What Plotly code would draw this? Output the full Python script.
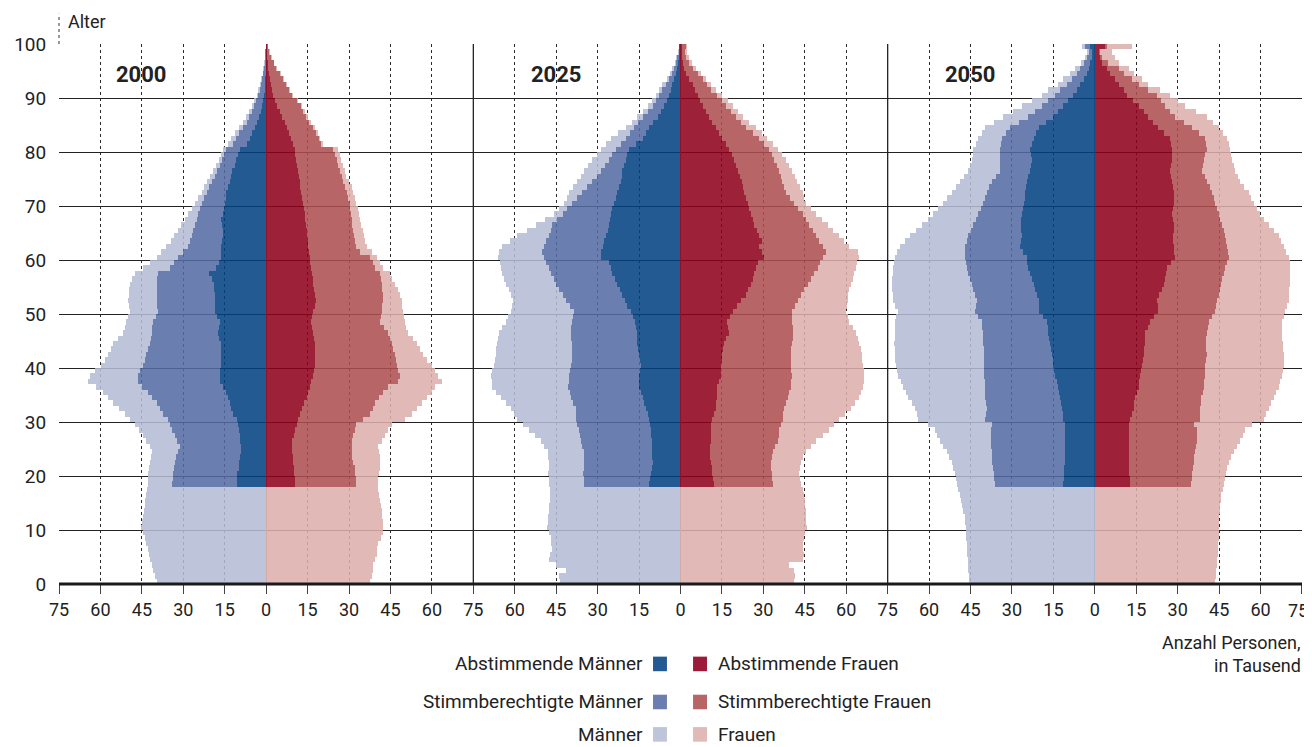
import plotly.graph_objects as go
from plotly.subplots import make_subplots

ages = list(range(100))          # 0..99 (99 = 99+)
adult_ages = list(range(18, 100))

years = ["2000", "2025", "2050"]

# ---------------- 2000 ----------------
m_tot_2000 = [39.7, 40.3, 40.9, 41.5, 42.1, 42.5, 42.8, 43.4, 44.0, 44.6,
              45.2, 45.0, 44.6, 44.3, 44.0, 43.7, 43.4, 43.1, 42.8, 42.8,
              42.8, 42.5, 42.1, 41.8, 41.5, 42.1, 43.4, 44.6, 46.0, 47.6,
              49.4, 51.2, 53.3, 55.4, 57.3, 59.1, 61.5, 64.5, 63.9, 62.0,
              59.7, 58.5, 57.2, 56.3, 55.4, 53.6, 51.8, 51.2, 50.6, 50.0,
              49.4, 49.7, 50.0, 49.8, 49.6, 49.4, 48.5, 47.6, 44.6, 42.0,
              39.7, 37.9, 36.1, 34.6, 33.2, 31.9, 30.7, 29.5, 28.2, 27.0,
              25.8, 24.6, 23.4, 22.4, 21.4, 20.4, 19.2, 18.0, 17.2, 16.4,
              15.6, 13.8, 12.6, 11.4, 10.0, 8.3, 7.2, 6.2, 5.2, 4.3,
              3.5, 2.8, 2.2, 1.7, 1.3, 1.0, 0.7, 0.5, 0.3, 0.2]
m_elig_2000 = [34.1, 33.9,
               33.7, 33.4, 33.1, 32.5, 31.9, 31.3, 32.2, 33.1, 34.0, 34.9,
               35.5, 37.3, 38.5, 39.7, 41.2, 42.8, 44.9, 46.4, 46.4, 45.8,
               44.6, 44.0, 43.4, 42.8, 42.1, 41.8, 41.5, 41.2, 40.9, 40.0,
               39.1, 39.4, 39.7, 39.7, 39.7, 39.7, 39.4, 39.1, 34.9, 33.4,
               31.9, 30.0, 28.3, 27.5, 27.0, 26.4, 25.8, 25.2, 24.6, 24.0,
               23.4, 22.5, 21.6, 20.6, 19.6, 18.6, 17.7, 16.8, 15.9, 15.1,
               14.4, 12.0, 10.8, 9.7, 8.5, 7.1, 6.1, 5.2, 4.4, 3.6,
               2.9, 2.3, 1.8, 1.4, 1.1, 0.8, 0.6, 0.4, 0.3, 0.2]
m_vote_2000 = [10.7, 10.6,
               10.4, 10.0, 9.7, 9.5, 9.2, 9.2, 9.3, 9.5, 9.8, 10.1,
               10.7, 12.0, 12.6, 13.2, 13.8, 14.4, 15.6, 16.8, 16.8, 16.8,
               16.2, 16.2, 16.2, 16.3, 16.4, 16.9, 17.4, 17.1, 16.8, 17.7,
               18.6, 18.6, 18.6, 18.7, 18.8, 18.8, 19.5, 20.7, 18.0, 17.0,
               16.2, 16.2, 16.2, 15.9, 15.8, 15.6, 15.9, 16.2, 15.8, 15.4,
               15.0, 14.7, 14.4, 13.8, 13.2, 12.6, 12.2, 11.4, 10.8, 10.2,
               9.5, 7.1, 6.0, 5.0, 4.0, 3.2, 2.6, 2.0, 1.5, 1.0,
               0.7, 0.5, 0.4, 0.3, 0.2, 0.15, 0.1, 0.1, 0.05, 0.05]
f_tot_2000 = [37.6, 38.2, 38.5, 38.8, 39.4, 40.0, 40.3, 40.6, 41.5, 42.4,
              42.4, 42.4, 42.1, 41.8, 41.5, 41.2, 40.9, 40.6, 40.6, 40.6,
              40.9, 41.2, 41.2, 41.2, 40.9, 40.6, 41.8, 43.0, 44.2, 45.4,
              50.2, 52.7, 54.5, 56.3, 58.1, 59.9, 61.0, 63.5, 62.3, 61.1,
              59.9, 58.4, 56.9, 55.7, 54.5, 53.0, 51.4, 50.8, 50.2, 49.9,
              49.6, 49.3, 49.0, 48.4, 47.8, 46.6, 45.7, 44.8, 42.4, 41.2,
              40.0, 38.2, 36.4, 35.7, 35.4, 35.0, 34.5, 34.0, 33.5, 33.1,
              32.7, 32.1, 31.5, 30.9, 30.0, 29.0, 28.4, 27.8, 27.2, 26.6,
              26.0, 20.6, 19.6, 18.6, 17.6, 16.1, 15.1, 14.0, 13.0, 11.5,
              9.6, 8.6, 7.4, 6.3, 5.3, 4.0, 3.0, 2.1, 1.4, 0.8]
f_elig_2000 = [32.7, 32.7,
               32.3, 32.0, 31.5, 30.9, 30.9, 30.9, 31.2, 31.5, 32.1, 32.7,
               35.1, 37.6, 38.5, 39.4, 40.9, 42.4, 44.2, 47.8, 48.4, 47.8,
               47.2, 46.9, 46.6, 46.0, 45.4, 44.8, 44.2, 42.7, 41.2, 41.5,
               41.8, 42.1, 42.4, 42.2, 42.0, 42.0, 41.6, 41.2, 39.4, 38.5,
               37.6, 34.0, 32.7, 32.1, 31.8, 31.5, 31.2, 30.9, 30.6, 30.5,
               30.3, 29.7, 29.1, 28.5, 27.9, 27.3, 26.7, 26.1, 25.5, 24.9,
               24.3, 20.0, 19.0, 18.0, 17.0, 15.5, 14.5, 13.5, 12.5, 11.0,
               9.2, 8.2, 7.0, 6.0, 5.0, 3.7, 2.8, 1.9, 1.2, 0.7]
f_vote_2000 = [10.4, 10.3,
               10.1, 9.9, 9.8, 9.6, 9.4, 9.4, 9.4, 9.9, 10.4, 11.0,
               11.6, 12.2, 12.8, 13.7, 14.6, 15.2, 15.8, 16.4, 17.0, 17.3,
               17.6, 17.6, 17.6, 17.6, 17.6, 17.3, 17.0, 16.7, 16.4, 16.7,
               17.0, 17.6, 18.2, 17.8, 17.4, 17.0, 16.8, 16.6, 16.3, 16.0,
               15.8, 15.5, 15.2, 15.0, 14.8, 14.6, 14.4, 14.2, 14.0, 13.7,
               13.4, 13.0, 12.6, 12.4, 12.1, 11.8, 11.5, 11.2, 10.9, 10.6,
               10.4, 9.6, 8.9, 8.2, 7.5, 6.8, 5.9, 5.0, 4.1, 3.3,
               2.5, 2.0, 1.6, 1.3, 1.0, 0.8, 0.6, 0.4, 0.3, 0.2]

# ---------------- 2025 ----------------
m_tot_2025 = [43.6, 43.8, 41.4, 45.0, 47.5, 47.0, 46.3, 46.6, 46.9, 47.5,
              48.1, 47.9, 47.7, 47.6, 47.5, 47.3, 47.2, 47.3, 47.5, 47.6,
              47.7, 47.6, 47.5, 47.7, 48.0, 49.2, 50.5, 52.6, 54.7, 56.8,
              58.9, 60.2, 61.4, 63.2, 65.0, 66.5, 68.0, 68.3, 68.6, 68.0,
              67.4, 67.1, 66.8, 66.5, 66.2, 65.9, 65.6, 64.4, 63.2, 62.3,
              61.4, 61.0, 60.7, 61.4, 62.0, 62.9, 63.8, 64.4, 65.0, 65.4,
              65.8, 65.6, 64.4, 61.7, 58.9, 55.6, 52.3, 49.0, 45.7, 43.8,
              42.0, 41.1, 40.2, 38.7, 37.2, 36.0, 34.8, 33.3, 31.8, 30.2,
              28.7, 26.9, 25.1, 22.4, 19.7, 17.6, 15.5, 13.6, 11.8, 10.3,
              8.8, 7.6, 6.4, 4.6, 3.7, 2.8, 2.0, 1.4, 0.9, 0.5]
m_elig_2025 = [34.8, 34.9,
               35.0, 34.9, 34.8, 34.8, 34.8, 35.4, 36.0, 36.3, 36.6, 37.2,
               37.8, 37.8, 37.8, 38.7, 39.6, 40.0, 40.5, 40.3, 40.2, 39.9,
               39.6, 39.3, 39.0, 39.1, 39.3, 39.4, 39.6, 39.4, 39.3, 38.8,
               38.4, 39.9, 41.4, 42.6, 43.8, 44.8, 45.7, 46.6, 47.5, 48.4,
               49.3, 50.1, 49.3, 48.4, 47.5, 46.9, 46.3, 44.5, 42.6, 40.8,
               39.0, 37.2, 35.4, 33.6, 31.8, 30.2, 28.7, 27.2, 25.7, 24.5,
               23.3, 21.5, 19.7, 18.2, 16.7, 15.1, 13.6, 11.8, 10.0, 8.8,
               7.6, 6.4, 5.2, 4.0, 3.1, 2.2, 1.6, 1.0, 0.6, 0.4]
m_vote_2025 = [11.2, 10.9,
               10.6, 10.3, 10.0, 10.2, 10.3, 10.3, 10.3, 10.5, 10.6, 10.9,
               11.2, 11.8, 12.4, 13.0, 13.6, 14.2, 14.9, 14.9, 14.9, 14.6,
               14.3, 14.6, 14.9, 15.2, 15.5, 15.5, 15.5, 16.0, 16.4, 17.2,
               17.9, 19.1, 20.0, 20.9, 21.8, 22.7, 23.6, 24.5, 25.1, 25.7,
               28.7, 28.7, 28.1, 27.5, 26.9, 26.3, 25.7, 25.4, 25.1, 24.5,
               23.9, 23.3, 22.7, 22.1, 21.5, 21.2, 20.9, 20.3, 19.7, 19.1,
               18.5, 16.0, 13.6, 12.4, 11.2, 9.7, 8.2, 7.0, 5.8, 4.9,
               4.0, 3.4, 2.8, 2.2, 1.6, 1.0, 0.8, 0.6, 0.4, 0.3]
f_tot_2025 = [41.3, 41.7, 41.3, 39.5, 44.3, 44.9, 44.3, 44.6, 44.9, 45.3,
              45.8, 45.6, 45.5, 45.4, 45.3, 45.1, 44.9, 44.3, 43.7, 43.4,
              43.1, 43.4, 43.7, 44.6, 45.5, 47.4, 49.2, 51.6, 54.0, 55.8,
              57.6, 59.7, 61.8, 63.4, 64.9, 65.5, 66.1, 66.4, 66.7, 66.4,
              66.1, 66.0, 65.8, 65.4, 64.9, 64.3, 63.6, 62.4, 61.2, 60.6,
              60.0, 60.3, 60.6, 60.9, 61.2, 61.8, 62.4, 63.0, 63.6, 64.1,
              64.6, 64.3, 61.2, 59.4, 57.6, 55.5, 53.4, 51.3, 49.2, 47.4,
              45.5, 44.9, 44.3, 43.4, 42.4, 41.5, 40.6, 39.5, 38.3, 36.8,
              35.3, 33.5, 31.6, 29.5, 27.4, 25.0, 22.6, 20.8, 19.0, 17.2,
              15.3, 12.9, 11.1, 9.3, 7.5, 5.7, 4.2, 3.2, 2.4, 2.6]
f_elig_2025 = [33.5, 33.4,
               33.2, 33.0, 32.9, 33.2, 33.5, 34.4, 35.3, 35.6, 35.9, 36.5,
               37.1, 37.4, 37.7, 38.3, 38.9, 39.5, 40.1, 40.3, 40.5, 40.3,
               40.1, 40.1, 40.1, 40.3, 40.5, 40.7, 40.9, 40.7, 40.5, 40.5,
               40.5, 41.5, 42.5, 43.7, 44.9, 46.1, 47.3, 48.5, 49.8, 50.7,
               51.6, 52.8, 51.6, 50.4, 49.2, 48.0, 46.7, 45.5, 44.3, 42.8,
               41.3, 39.8, 38.2, 37.6, 37.0, 36.4, 35.7, 34.9, 34.0, 33.1,
               32.2, 30.4, 28.6, 26.2, 23.8, 22.0, 20.2, 18.4, 16.5, 15.0,
               13.5, 11.1, 9.6, 8.1, 6.3, 4.5, 3.2, 2.0, 1.6, 2.0]
f_vote_2025 = [12.3, 12.0,
               11.7, 11.4, 11.1, 10.9, 10.7, 10.9, 11.1, 11.1, 11.1, 11.3,
               11.5, 12.2, 12.9, 13.0, 13.2, 13.3, 13.5, 14.1, 14.7, 14.7,
               14.7, 15.0, 15.3, 15.6, 15.9, 16.7, 17.5, 17.3, 17.1, 18.0,
               19.0, 20.5, 22.0, 23.8, 24.7, 25.6, 26.2, 26.8, 27.4, 28.0,
               30.4, 29.8, 28.6, 29.6, 28.6, 27.7, 26.8, 26.2, 25.6, 25.0,
               24.4, 23.8, 23.2, 22.8, 22.5, 21.6, 20.8, 20.2, 19.6, 18.7,
               17.8, 16.5, 15.3, 14.1, 12.9, 11.7, 10.5, 9.3, 8.1, 7.2,
               6.3, 5.4, 4.5, 3.2, 2.0, 1.5, 1.0, 0.7, 0.5, 0.5]

# ---------------- 2050 ----------------
m_tot_2050 = [45.7, 45.8, 45.9, 46.0, 46.1, 46.3, 46.4, 46.5, 46.6, 46.8,
              46.9, 47.1, 47.3, 47.7, 48.1, 48.5, 48.9, 49.5, 50.1, 50.4,
              50.7, 51.3, 51.9, 52.8, 53.7, 55.0, 56.2, 57.1, 58.0, 60.4,
              64.0, 64.6, 65.2, 66.4, 67.6, 68.5, 69.4, 70.4, 71.3, 71.7,
              72.1, 72.3, 72.5, 72.6, 72.7, 72.6, 72.5, 72.5, 72.5, 72.0,
              71.5, 72.3, 73.1, 73.3, 73.4, 73.4, 73.4, 73.3, 73.1, 72.8,
              72.5, 71.6, 70.7, 68.9, 67.0, 64.9, 62.8, 60.7, 58.6, 56.8,
              55.0, 53.5, 51.9, 50.4, 48.9, 47.4, 45.9, 45.3, 44.7, 44.4,
              44.1, 43.2, 42.3, 41.1, 39.9, 36.6, 33.2, 29.9, 26.6, 23.0,
              19.3, 16.9, 13.3, 11.5, 9.1, 7.2, 5.0, 3.6, 3.0, 4.8]
m_elig_2050 = [36.2, 36.5,
               36.8, 37.0, 37.2, 37.3, 37.4, 37.6, 37.7, 37.7, 37.7, 37.4,
               39.9, 39.6, 39.3, 39.6, 39.9, 39.9, 39.9, 40.0, 40.1, 40.1,
               40.1, 40.1, 40.1, 40.3, 40.5, 40.5, 40.5, 40.8, 41.1, 42.3,
               43.5, 43.2, 42.9, 43.5, 44.1, 44.7, 45.3, 45.9, 46.5, 46.9,
               47.3, 47.2, 47.1, 46.5, 45.9, 45.0, 44.1, 43.2, 42.3, 41.4,
               40.5, 39.9, 39.3, 38.4, 37.4, 35.9, 34.4, 34.4, 34.4, 34.4,
               34.4, 34.1, 33.8, 32.3, 30.8, 27.5, 24.2, 21.8, 19.3, 16.9,
               14.5, 12.7, 10.3, 8.5, 6.6, 5.4, 4.2, 3.0, 2.4, 3.8]
m_vote_2050 = [11.5, 11.3,
               11.2, 11.2, 11.1, 11.0, 10.9, 10.9, 10.9, 10.9, 10.9, 10.9,
               11.5, 11.8, 12.1, 12.4, 12.7, 13.0, 13.3, 13.9, 14.5, 14.8,
               15.1, 15.4, 15.7, 16.0, 16.3, 16.6, 16.9, 17.2, 17.5, 19.0,
               20.5, 20.5, 20.5, 21.1, 21.7, 22.3, 22.9, 23.5, 24.2, 24.5,
               24.8, 26.0, 27.2, 26.9, 26.6, 26.7, 26.8, 26.7, 26.6, 26.1,
               25.6, 25.5, 25.4, 25.1, 24.8, 24.2, 23.6, 23.2, 22.9, 23.2,
               23.6, 23.0, 22.3, 21.4, 20.5, 17.8, 15.1, 13.3, 11.5, 9.7,
               7.9, 6.6, 5.4, 4.2, 3.0, 2.4, 1.8, 1.2, 1.0, 1.8]
f_tot_2050 = [43.5, 43.6, 43.8, 44.0, 44.1, 44.3, 44.4, 44.6, 44.7, 44.8,
              44.9, 45.0, 45.0, 45.2, 45.3, 45.5, 45.7, 46.1, 46.5, 46.9,
              47.3, 47.8, 48.3, 49.2, 50.1, 51.3, 52.5, 53.4, 54.3, 56.8,
              61.0, 61.9, 62.8, 63.7, 64.6, 65.5, 66.4, 67.0, 67.6, 67.9,
              68.2, 68.2, 68.2, 68.0, 67.9, 67.7, 67.6, 67.6, 67.6, 68.2,
              68.8, 69.4, 70.0, 70.2, 70.3, 70.5, 70.7, 70.7, 70.7, 70.4,
              70.0, 69.1, 68.2, 67.3, 66.4, 64.6, 62.8, 61.3, 59.8, 58.6,
              57.4, 56.5, 55.6, 54.0, 52.5, 51.6, 50.7, 50.1, 49.5, 49.2,
              48.9, 48.3, 47.7, 46.2, 44.7, 42.6, 40.5, 36.6, 32.6, 29.9,
              27.2, 23.6, 19.3, 16.9, 13.9, 12.1, 8.5, 7.2, 6.0, 13.3]
f_elig_2050 = [34.8, 34.9,
               35.0, 35.3, 35.6, 35.9, 36.2, 36.5, 36.8, 36.8, 36.8, 35.6,
               38.0, 38.0, 38.0, 38.2, 38.4, 38.9, 39.3, 39.5, 39.6, 39.8,
               39.9, 40.2, 40.5, 40.3, 40.1, 40.3, 40.5, 40.8, 41.1, 42.3,
               43.5, 43.8, 44.1, 44.7, 45.3, 45.6, 45.9, 46.5, 47.1, 47.7,
               48.3, 48.0, 47.7, 47.4, 47.1, 46.5, 45.9, 45.3, 44.7, 44.1,
               43.5, 42.9, 42.3, 41.4, 40.5, 39.6, 38.6, 38.9, 39.3, 39.9,
               40.5, 40.2, 39.9, 37.5, 35.0, 32.0, 29.0, 27.2, 25.4, 23.9,
               22.3, 19.3, 15.7, 13.3, 10.3, 8.5, 4.8, 2.4, 1.8, 4.2]
f_vote_2050 = [12.7, 12.6,
               12.4, 12.4, 12.3, 12.3, 12.3, 12.4, 12.4, 12.4, 12.4, 12.1,
               12.7, 13.3, 13.9, 14.2, 14.5, 15.1, 15.7, 16.0, 16.3, 16.6,
               16.9, 17.2, 17.5, 17.7, 17.9, 18.0, 18.1, 19.0, 19.9, 21.4,
               22.9, 22.6, 22.3, 23.2, 24.2, 24.8, 25.4, 25.7, 26.0, 27.5,
               29.0, 28.7, 28.4, 28.2, 28.0, 28.4, 28.7, 28.2, 27.8, 28.1,
               28.4, 28.4, 28.4, 28.1, 27.8, 27.5, 27.2, 27.5, 27.8, 27.8,
               27.8, 27.5, 27.2, 25.0, 22.9, 21.1, 19.3, 17.5, 15.7, 13.6,
               11.5, 10.3, 8.5, 7.2, 5.4, 4.2, 2.4, 1.8, 1.5, 3.6]

x_ticks = [-75, -60, -45, -30, -15, 0, 15, 30, 45, 60, 75]
y_ticks = [0, 10, 20, 30, 40, 50, 60, 70, 80, 90, 100]

legend_m = ["Abstimmende Männer", "Stimmberechtigte Männer", "Männer"]
legend_f = ["Abstimmende Frauen", "Stimmberechtigte Frauen", "Frauen"]

# target (apparent) colours: dark, medium, light
col_m = ["#245A92", "#6A7EAF", "#BEC5DB"]
col_f = ["#9E1A3A", "#B76566", "#E1BAB8"]
ALPHA = 0.87
FONT = "Roboto"
TXT = "#222222"


def rgba(hexcol, a=ALPHA):
    h = hexcol.lstrip("#")
    rgb = [int(h[i:i + 2], 16) for i in (0, 2, 4)]
    base = [min(255, max(0, round((c - 255 * (1 - a)) / a))) for c in rgb]
    return f"rgba({base[0]},{base[1]},{base[2]},{a})"


data = {
    "2000": (m_tot_2000, m_elig_2000, m_vote_2000, f_tot_2000, f_elig_2000, f_vote_2000),
    "2025": (m_tot_2025, m_elig_2025, m_vote_2025, f_tot_2025, f_elig_2025, f_vote_2025),
    "2050": (m_tot_2050, m_elig_2050, m_vote_2050, f_tot_2050, f_elig_2050, f_vote_2050),
}

fig = make_subplots(rows=1, cols=3, shared_yaxes=True, horizontal_spacing=0)

y_all = [a + 0.5 for a in ages]
y_ad = [a + 0.5 for a in adult_ages]

for i, yr in enumerate(years):
    mt, me, mv, ft, fe, fv = data[yr]
    me_full = [0.0] * 18 + me
    fe_full = [0.0] * 18 + fe
    for sign, tot, eli, eli_full, vot, cols in (
        (-1, mt, me, me_full, mv, col_m),
        (1, ft, fe, fe_full, fv, col_f),
    ):
        seg_dark = [sign * v for v in vot]
        seg_mid = [sign * max(0.0, e - v) for e, v in zip(eli, vot)]
        seg_light = [sign * max(0.0, t - e) for t, e in zip(tot, eli_full)]
        for xs, ys, c in ((seg_dark, y_ad, cols[0]), (seg_mid, y_ad, cols[1]),
                          (seg_light, y_all, cols[2])):
            fig.add_trace(go.Bar(x=xs, y=ys, orientation="h", width=1.0,
                                 marker=dict(color=rgba(c), line=dict(width=0)),
                                 showlegend=False, hoverinfo="skip"),
                          row=1, col=i + 1)

# page body has an 8px margin -> figure is 8px smaller, margins shifted
fig.update_layout(barmode="relative", bargap=0, width=1304, height=739,
                  margin=dict(l=51, r=10, t=36, b=163, autoexpand=False),
                  paper_bgcolor="white", plot_bgcolor="white",
                  font=dict(family=FONT, size=19, color=TXT))

for i in range(3):
    ticktext = [str(abs(v)) for v in x_ticks]
    if i > 0:
        ticktext[0] = ""
    if i == 2:
        ticktext[-1] = ""   # drawn as right-aligned annotation below (edge of page)
    fig.update_xaxes(range=[-75, 75], tickvals=x_ticks, ticktext=ticktext,
                     showgrid=True, gridcolor="#2a2a2a", gridwidth=1, griddash="3px,3px",
                     zeroline=True, zerolinecolor="#8a8a8a", zerolinewidth=1,
                     ticks="outside", ticklen=9, tickcolor="#444444", tickwidth=1,
                     showline=False, fixedrange=True, ticklabeloverflow="allow",
                     tickfont=dict(family=FONT, size=18, color=TXT),
                     row=1, col=i + 1)
    fig.update_yaxes(range=[0, 100], tickvals=y_ticks, showgrid=True,
                     gridcolor="#222222", gridwidth=1.2, zeroline=False,
                     ticks="outside" if i == 0 else "", ticklen=8,
                     tickcolor="rgba(0,0,0,0)",
                     showticklabels=(i == 0),
                     tickfont=dict(family=FONT, size=19, color=TXT),
                     row=1, col=i + 1)

shapes = []
# solid panel separators
for px in (1 / 3, 2 / 3):
    shapes.append(dict(type="line", xref="paper", yref="paper", x0=px, x1=px, y0=0, y1=1,
                       line=dict(color="#222222", width=1.3), layer="below"))
# thick baseline
shapes.append(dict(type="line", xref="paper", yref="paper", x0=0, x1=1, y0=0, y1=0,
                   line=dict(color="#1a1a1a", width=3), layer="above"))
# dashed extension above plot for "Alter"
shapes.append(dict(type="line", xref="paper", yref="paper", x0=0, x1=0, y0=1, y1=1.056,
                   line=dict(color="#333333", width=1, dash="3px,3px")))

annotations = []
for i, yr in enumerate(years):
    xr = "x" if i == 0 else f"x{i + 1}"
    annotations.append(dict(text=f"<b>{yr}</b>", xref=xr, yref="y", x=-45, y=94.4,
                            showarrow=False, font=dict(family=FONT, size=22, color=TXT)))
# last x tick label at the right page edge
annotations.append(dict(text=str(x_ticks[-1]), xref="paper", yref="paper", x=1.0065,
                        y=-0.0495, xanchor="right", yanchor="middle", showarrow=False,
                        font=dict(family=FONT, size=18, color=TXT)))
annotations.append(dict(text="Alter", xref="paper", yref="paper", x=0.006, y=1.041,
                        xanchor="left", yanchor="middle", showarrow=False,
                        font=dict(family=FONT, size=18, color=TXT)))
annotations.append(dict(text="Anzahl Personen,", xref="paper", yref="paper", x=1.001,
                        y=-0.109, xanchor="right", yanchor="middle", showarrow=False,
                        font=dict(family=FONT, size=18, color=TXT)))
annotations.append(dict(text="in Tausend", xref="paper", yref="paper", x=1.001,
                        y=-0.150, xanchor="right", yanchor="middle", showarrow=False,
                        font=dict(family=FONT, size=18, color=TXT)))

# custom legend
row_y = [-0.148, -0.2185, -0.2785]
sq_h = 0.0135
for k in range(3):
    yk = row_y[k]
    annotations.append(dict(text=legend_m[k], xref="paper", yref="paper", x=0.4715, y=yk,
                            xanchor="right", yanchor="middle", showarrow=False,
                            font=dict(family=FONT, size=19, color=TXT)))
    annotations.append(dict(text=legend_f[k], xref="paper", yref="paper", x=0.5286, y=yk,
                            xanchor="left", yanchor="middle", showarrow=False,
                            font=dict(family=FONT, size=19, color=TXT)))
    shapes.append(dict(type="rect", xref="paper", yref="paper", x0=0.4779, x1=0.4891,
                       y0=yk - sq_h, y1=yk + sq_h, fillcolor=col_m[k], line=dict(width=0)))
    shapes.append(dict(type="rect", xref="paper", yref="paper", x0=0.5101, x1=0.5213,
                       y0=yk - sq_h, y1=yk + sq_h, fillcolor=col_f[k], line=dict(width=0)))

fig.update_layout(shapes=shapes, annotations=annotations)

fig.write_html("out.html")
